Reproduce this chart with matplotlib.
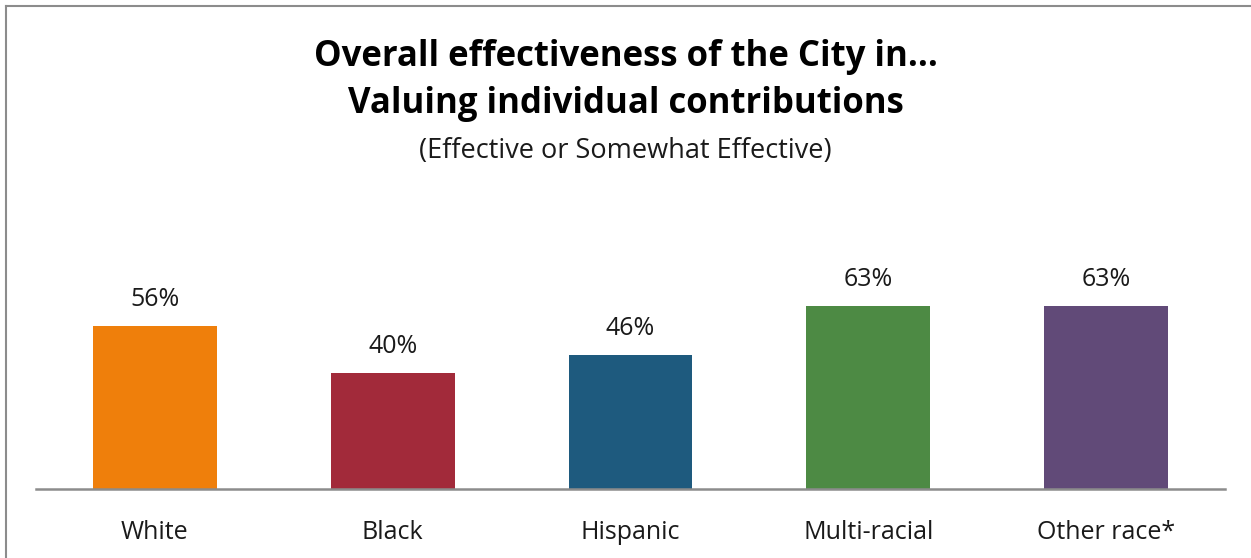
import matplotlib.pyplot as plt
from matplotlib.lines import Line2D

categories = ["White", "Black", "Hispanic", "Multi-racial", "Other race*"]
values = [56, 40, 46, 63, 63]
bar_colors = ["#EF7F0B", "#A22A3A", "#1E5A7E", "#4D8A44", "#614A78"]

plt.rcParams["font.family"] = ["Open Sans", "DejaVu Sans"]

W, H = 1251, 558
fig = plt.figure(figsize=(W / 100, H / 100), dpi=100)

# axes box in pixels: baseline at y=489, slots from x=36 to 1225
left, right, bottom, top = 36, 1225, 489, 198
ax = fig.add_axes([left / W, 1 - bottom / H, (right - left) / W, (bottom - top) / H])

x = range(len(categories))
ax.bar(x, values, width=0.52, color=bar_colors)
for xi, v in zip(x, values):
    ax.annotate(f"{v}%", (xi, v), xytext=(0, 10), textcoords="offset points",
                ha="center", va="bottom", fontsize=18, color="#1A1A1A")

ax.set_xlim(-0.5, len(categories) - 0.5)
ax.set_ylim(0, 100)
ax.set_xticks(list(x))
ax.set_xticklabels(categories, fontsize=18, color="#1A1A1A")
ax.tick_params(axis="x", length=0, pad=22)
ax.set_yticks([])
for side in ["top", "right", "left"]:
    ax.spines[side].set_visible(False)
ax.spines["bottom"].set_color("#8C8C8C")
ax.spines["bottom"].set_linewidth(1.8)

fig.text(0.5, 1 - 57 / H, "Overall effectiveness of the City in...", ha="center", va="center",
         fontsize=25, fontweight="bold")
fig.text(0.5, 1 - 104 / H, "Valuing individual contributions", ha="center", va="center",
         fontsize=25, fontweight="bold")
fig.text(0.5, 1 - 151 / H, "(Effective or Somewhat Effective)", ha="center", va="center",
         fontsize=19.5, color="#1A1A1A")

# frame: only top and left edges visible in the crop
fig.add_artist(Line2D([6 / W, 6 / W], [0, 1 - 6 / H], color="#8C8C8C", lw=1.5, transform=fig.transFigure))
fig.add_artist(Line2D([6 / W, 1], [1 - 6 / H, 1 - 6 / H], color="#8C8C8C", lw=1.5, transform=fig.transFigure))

fig.savefig("out.png", dpi=100)
